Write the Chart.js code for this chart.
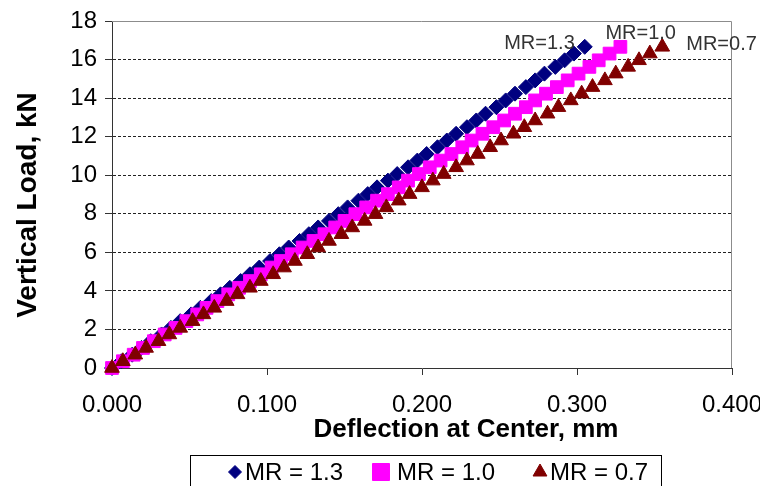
<!DOCTYPE html>
<html>
<head>
<meta charset="utf-8">
<script src="https://cdn.jsdelivr.net/npm/chart.js"></script>
<style>
  html, body { margin: 0; padding: 0; background: #fff; }
  #wrap { width: 760px; height: 486px; }
</style>
</head>
<body>
<div id="wrap"><canvas id="my-chart"></canvas></div>
<script>
// vertical load steps, kN (same steps for the three curves)
const loadKN = [0, 0.35, 0.69, 1.04, 1.39, 1.74, 2.08, 2.43, 2.78, 3.12, 3.47, 3.82, 4.16, 4.51, 4.86, 5.21, 5.55, 5.90, 6.25, 6.59,
  6.94, 7.29, 7.63, 7.98, 8.33, 8.68, 9.02, 9.37, 9.72, 10.06, 10.41, 10.76, 11.10, 11.45, 11.80, 12.15, 12.49, 12.84, 13.19, 13.53,
  13.88, 14.23, 14.57, 14.92, 15.27, 15.62, 15.96, 16.31, 16.66];

// deflection at center, mm
const deflMR13 = [0, 0.006, 0.013, 0.019, 0.025, 0.032, 0.038, 0.044, 0.051, 0.057, 0.064, 0.070, 0.076, 0.083, 0.089, 0.095, 0.102, 0.108, 0.114, 0.121,
  0.127, 0.133, 0.140, 0.146, 0.152, 0.159, 0.165, 0.171, 0.178, 0.184, 0.191, 0.197, 0.203, 0.210, 0.216, 0.222, 0.229, 0.235, 0.241, 0.248,
  0.254, 0.260, 0.267, 0.273, 0.279, 0.286, 0.292, 0.298, 0.305];
const deflMR10 = [0, 0.007, 0.014, 0.020, 0.027, 0.034, 0.041, 0.048, 0.055, 0.061, 0.068, 0.075, 0.082, 0.089, 0.096, 0.103, 0.109, 0.116, 0.123, 0.130,
  0.137, 0.144, 0.150, 0.157, 0.164, 0.171, 0.178, 0.185, 0.191, 0.198, 0.205, 0.212, 0.219, 0.226, 0.232, 0.239, 0.246, 0.253, 0.260, 0.267,
  0.273, 0.280, 0.287, 0.294, 0.301, 0.308, 0.314, 0.321, 0.328];
const deflMR07 = [0, 0.007, 0.015, 0.022, 0.030, 0.037, 0.044, 0.052, 0.059, 0.066, 0.074, 0.081, 0.089, 0.096, 0.104, 0.111, 0.118, 0.126, 0.133, 0.140,
  0.148, 0.155, 0.163, 0.170, 0.177, 0.185, 0.192, 0.200, 0.207, 0.214, 0.222, 0.229, 0.236, 0.244, 0.251, 0.259, 0.266, 0.273, 0.281, 0.288,
  0.296, 0.303, 0.310, 0.318, 0.325, 0.333, 0.340, 0.347, 0.355];

const legendNames = ['MR = 1.3', 'MR = 1.0', 'MR = 0.7'];
const endLabels = ['MR=1.3', 'MR=1.0', 'MR=0.7'];
const xTickValues = [0, 0.1, 0.2, 0.3, 0.4];
const yTickValues = [0, 2, 4, 6, 8, 10, 12, 14, 16, 18];

const FONT = "'Liberation Sans', Arial, sans-serif";

function toPoints(defl) {
  return defl.map((d, i) => ({ x: d, y: loadKN[i] }));
}

const styles = [
  { color: '#000080', pointStyle: 'rectRot', radius: 7.5, legendRadius: 6.5, lx: 235, tx: 245 },
  { color: '#ff00ff', pointStyle: 'rect', radius: 9, legendRadius: 12, lx: 381, tx: 397 },
  { color: '#800000', pointStyle: 'triangle', radius: 8.5, legendRadius: 8, lx: 540, tx: 550 }
];
// label offsets from the last point of each curve
const endOffsets = [[-10, -3, 'right'], [-15, -13, 'left'], [24, -2, 'left']];

const seriesData = [deflMR13, deflMR10, deflMR07];

const datasets = seriesData.map((d, i) => ({
  label: legendNames[i],
  data: toPoints(d),
  showLine: false,
  clip: false,
  pointStyle: styles[i].pointStyle,
  pointRadius: styles[i].radius,
  pointBackgroundColor: styles[i].color,
  pointBorderColor: styles[i].color,
  pointBorderWidth: 1,
  order: 3 - i
}));

const decorations = {
  id: 'decorations',
  afterDraw(chart) {
    const { ctx, chartArea: a, scales } = chart;
    ctx.save();
    // plot area border, top and right
    ctx.strokeStyle = '#8c8c8c';
    ctx.lineWidth = 1;
    ctx.beginPath();
    ctx.moveTo(a.left, a.top + 0.5);
    ctx.lineTo(a.right - 0.5, a.top + 0.5);
    ctx.lineTo(a.right - 0.5, a.bottom);
    ctx.stroke();

    // axis titles
    ctx.fillStyle = '#000';
    ctx.textAlign = 'center';
    ctx.textBaseline = 'middle';
    ctx.font = 'bold 26px ' + FONT;
    ctx.fillText('Deflection at Center, mm', 466, 430);
    ctx.save();
    ctx.translate(28, 205);
    ctx.rotate(-Math.PI / 2);
    ctx.font = 'bold 28px ' + FONT;
    ctx.fillText('Vertical Load, kN', 0, 0);
    ctx.restore();

    // labels at the end of each curve
    ctx.font = '20px ' + FONT;
    ctx.fillStyle = '#333';
    seriesData.forEach((d, i) => {
      const last = d.length - 1;
      const px = scales.x.getPixelForValue(d[last]);
      const py = scales.y.getPixelForValue(loadKN[last]);
      const [dx, dy, align] = endOffsets[i];
      ctx.textAlign = align;
      ctx.fillText(endLabels[i], px + dx, py + dy);
    });

    // legend box
    ctx.strokeStyle = '#000';
    ctx.lineWidth = 1;
    ctx.strokeRect(190.5, 455.5, 471, 60);
    ctx.font = '24px ' + FONT;
    ctx.fillStyle = '#000';
    ctx.textAlign = 'left';
    styles.forEach((s, i) => {
      ctx.fillStyle = s.color;
      ctx.strokeStyle = s.color;
      Chart.helpers.drawPoint(ctx, { pointStyle: s.pointStyle, radius: s.legendRadius, borderWidth: 1 }, s.lx, 472);
      ctx.fillStyle = '#000';
      ctx.fillText(legendNames[i], s.tx, 473);
    });
    ctx.restore();
  }
};

const ctx = document.querySelector('#my-chart').getContext('2d');
const chart = new Chart(ctx, {
  type: 'scatter',
  data: { datasets },
  options: {
    responsive: true,
    maintainAspectRatio: false,
    animation: false,
    layout: { padding: { left: 0, right: 28, top: 21, bottom: 0 } },
    plugins: { legend: { display: false }, tooltip: { enabled: false } },
    scales: {
      x: {
        type: 'linear',
        min: 0,
        max: 0.4,
        afterBuildTicks: (s) => { s.ticks = xTickValues.map(v => ({ value: v })); },
        afterFit: (s) => { s.height = 118; s.paddingLeft = 0; s.paddingRight = 0; },
        ticks: {
          color: '#000',
          font: { family: FONT, size: 24 },
          padding: 16,
          maxRotation: 0,
          autoSkip: false,
          callback: (v) => Number(v).toFixed(3)
        },
        grid: { drawOnChartArea: false, tickLength: 7, tickColor: '#333', color: '#333' },
        border: { display: true, color: '#333', width: 1 }
      },
      y: {
        type: 'linear',
        min: 0,
        max: 18,
        afterBuildTicks: (s) => { s.ticks = yTickValues.map(v => ({ value: v })); },
        afterFit: (s) => { s.width = 112; s.paddingTop = 0; s.paddingBottom = 0; },
        ticks: {
          color: '#000',
          font: { family: FONT, size: 24 },
          padding: 8
        },
        grid: {
          color: (c) => (c.tick && c.tick.value === 18 ? 'rgba(0,0,0,0)' : '#222'),
          tickColor: '#333',
          tickLength: 7,
          tickBorderDash: []
        },
        border: { display: true, color: '#333', width: 1, dash: [3, 2] }
      }
    }
  },
  plugins: [decorations]
});
</script>
</body>
</html>
